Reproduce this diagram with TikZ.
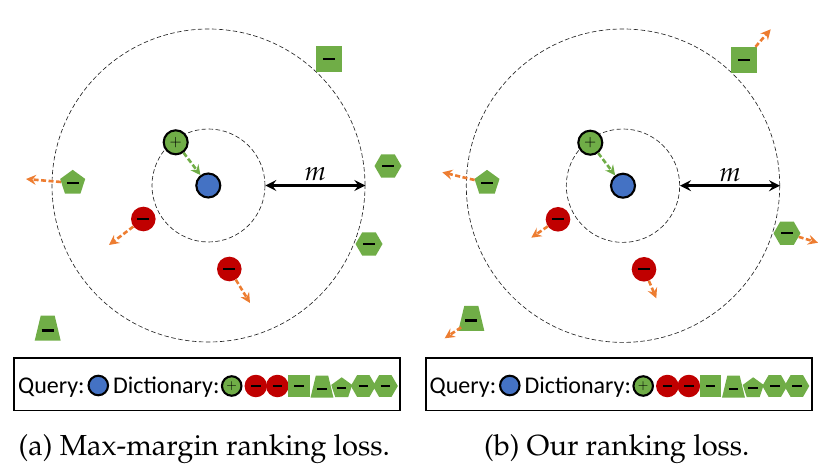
\documentclass[tikz,border=0pt]{standalone}
\usepackage[T1]{fontenc}
\usepackage{mathpazo}
\usepackage{fontspec}
\newfontfamily\legfont{Carlito}
\newcommand\palfont{\fontencoding{T1}\fontfamily{ppl}\selectfont}
\usetikzlibrary{arrows.meta,shapes.geometric}
\definecolor{ggreen}{RGB}{112,173,71}
\definecolor{qblue}{RGB}{68,114,196}
\definecolor{rred}{RGB}{192,0,0}
\definecolor{oorange}{RGB}{237,125,49}
\newcommand\negbar{\rule{12pt}{2.2pt}}
\newcommand\lnegbar{\rule{9.5pt}{1.7pt}}
\newcommand\mylegend[2]{%
  \begin{scope}[xshift=#2pt]
    \node[legbox] (#1box) at (207.2,384.2) {};
    \node[legtext, anchor=base west] (#1qt) at (18,393) {Query:};
    \node[query=19.5] (#1q) at (98.3,385.5) {};
    \node[legtext, anchor=base west] (#1dt) at (113,393) {Dictionary:};
    \node[posc=19.5, font=\fontsize{13}{13}\selectfont] (#1p) at (231.7,386) {$+$};
    \node[negc=22.5] (#1r1) at (255.8,386) {\lnegbar};
    \node[negc=22.5] (#1r2) at (277.3,386) {\lnegbar};
    \node[negsq=21.5] (#1sq) at (299,386) {\lnegbar};
    \pic[scale=0.88] at (322,386.5) {trapz};
    \node (#1tr) at (322,389) {\lnegbar};
    \node[negpent=22] (#1pn) at (341.7,388.3) {\lnegbar};
    \node[neghex=25] (#1h1) at (363.3,386) {\lnegbar};
    \node[neghex=25] (#1h2) at (385.3,386) {\lnegbar};
  \end{scope}}
\begin{document}
\begin{tikzpicture}[x=1pt,y=-1pt,
  ring/.style={circle, draw=black!85, dash pattern=on 4.5pt off 2.5pt, line width=0.65pt, inner sep=0pt, minimum size=#1},
  query/.style={circle, fill=qblue, draw=black, line width=2.1pt, minimum size=#1, inner sep=0pt},
  posc/.style={circle, fill=ggreen, draw=black, line width=2.1pt, minimum size=#1, inner sep=0pt},
  negc/.style={circle, fill=rred, minimum size=#1, inner sep=0pt},
  negsq/.style={rectangle, fill=ggreen, minimum size=#1, inner sep=0pt},
  negpent/.style={regular polygon, regular polygon sides=5, fill=ggreen, minimum size=#1, inner sep=0pt},
  neghex/.style={regular polygon, regular polygon sides=6, fill=ggreen, minimum size=#1, inner sep=0pt},
  trapz/.pic={\fill[ggreen] (-13,12.5) -- (13,12.5) -- (7,-12.5) -- (-7,-12.5) -- cycle;},
  anchorbox/.style={circle, minimum size=#1, inner sep=0pt},
  pusharrow/.style={draw=oorange, line width=2.6pt, dash pattern=on 5pt off 2.5pt, -{Stealth[length=10pt,width=10pt,inset=3.5pt]}},
  pullarrow/.style={draw=ggreen, line width=2.6pt, dash pattern=on 5pt off 2.5pt, -{Stealth[length=10pt,width=10pt,inset=3.5pt]}},
  marrow/.style={draw=black, line width=2.5pt, {Stealth[length=11pt,width=11pt,inset=4pt]}-{Stealth[length=11pt,width=11pt,inset=4pt]}},
  legtext/.style={font=\legfont\fontsize{24}{24}\selectfont, inner sep=0pt},
  legbox/.style={draw=black, line width=1.9pt, minimum width=386, minimum height=52.5, inner sep=0pt},
  captext/.style={font=\palfont\fontsize{29}{34}\selectfont, inner sep=0pt, anchor=base},
  mlabel/.style={font=\fontsize{27}{27}\selectfont, inner sep=0pt, anchor=base}
]
\useasboundingbox (0,0) rectangle (838,470);

% ---------- panel (a) ----------
\node[ring=313] (aout) at (208.5,185.5) {};
\node[ring=113] (ain) at (208.5,185.5) {};
\node[query=24] (aq) at (208.3,185.5) {};
\node[posc=24, font=\fontsize{15}{15}\selectfont] (ap) at (175.7,142.3) {$+$};
\draw[pullarrow] (ap) -- (aq);
\draw[marrow] (ain.east) -- node[mlabel, midway, yshift=4.5pt] (am) {$m$} (aout.east);
\node[negsq=26] (asq) at (329,59) {\negbar};
\node[neghex=27] (ah1) at (388,166) {\negbar};
\node[neghex=27] (ah2) at (369,244) {\negbar};
\node[negpent=26.3] (apn) at (72.7,183) {\negbar};
\coordinate (apnE) at (26,179);
\draw[pusharrow] (apn) -- (apnE);
\node[negc=24.6] (ar1) at (143.3,219) {\negbar};
\coordinate (ar1E) at (109,245);
\draw[pusharrow] (ar1) -- (ar1E);
\node[negc=24.6] (ar2) at (229.3,269) {\negbar};
\coordinate (ar2E) at (250,303);
\draw[pusharrow] (ar2) -- (ar2E);
\pic at (47.7,328.2) {trapz};
\node (atr) at (47.7,330.5) {\negbar};

% ---------- panel (b) ----------
\node[ring=313.4] (bout) at (623,185.7) {};
\node[ring=113.4] (bin) at (623,185.7) {};
\node[query=24] (bq) at (623,185.7) {};
\node[posc=24, font=\fontsize{15}{15}\selectfont] (bp) at (590.3,142.7) {$+$};
\draw[pullarrow] (bp) -- (bq);
\draw[marrow] (bin.east) -- node[mlabel, midway, yshift=4.5pt] (bm) {$m$} (bout.east);
\node[negsq=26] (bsq) at (744,60) {\negbar};
\coordinate (bsqE) at (770.7,29.3);
\draw[pusharrow] (bsq) -- (bsqE);
\node[negpent=26.3] (bpn) at (487,183) {\negbar};
\coordinate (bpnE) at (442.3,172.3);
\draw[pusharrow] (bpn) -- (bpnE);
\node[negc=24.6] (br1) at (558,219.3) {\negbar};
\coordinate (br1E) at (531.3,237.7);
\draw[pusharrow] (br1) -- (br1E);
\node[negc=24.6] (br2) at (644,269.3) {\negbar};
\coordinate (br2E) at (656.3,298.3);
\draw[pusharrow] (br2) -- (br2E);
\node[neghex=27] (bh) at (787,233.3) {\negbar};
\coordinate (bhE) at (818,242.7);
\draw[pusharrow] (bh) -- (bhE);
\pic at (471.3,318.3) {trapz};
\node[anchorbox=24] (btr) at (471.3,320.6) {\negbar};
\coordinate (btrE) at (444.7,338.3);
\draw[pusharrow] (btr) -- (btrE);

% ---------- legends ----------
\mylegend{la}{0}
\mylegend{lb}{411.5}

% ---------- captions ----------
\node[captext] (capa) at (204.3,455) {(a) Max-margin ranking loss.};
\node[captext] (capb) at (616.8,455) {(b) Our ranking loss.};
\end{tikzpicture}
\end{document}
